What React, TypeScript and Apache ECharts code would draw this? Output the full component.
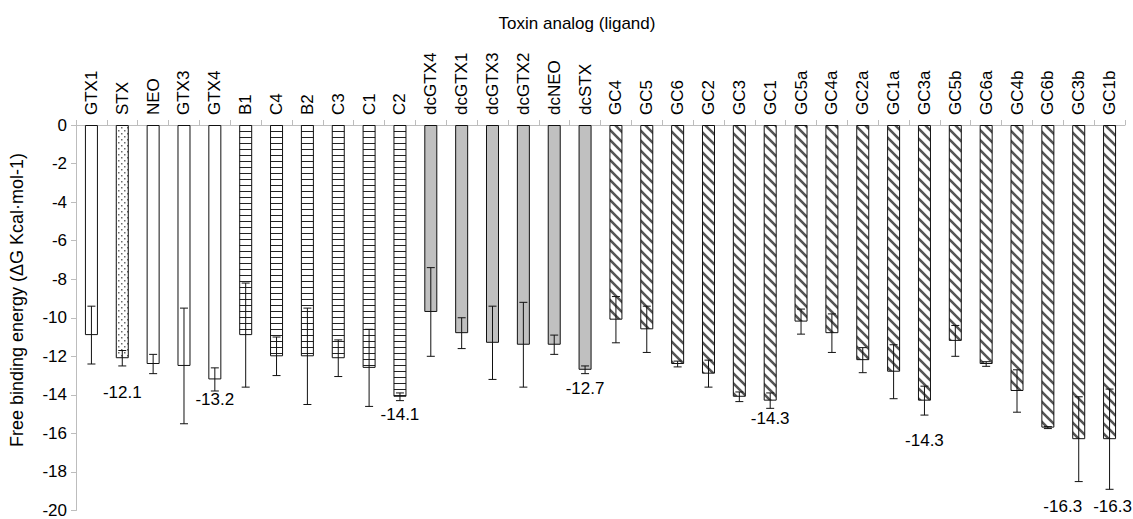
import React, { useEffect, useRef } from "react";
import * as echarts from "echarts";

// ---- data ----
const categories: string[] = [
  "GTX1", "STX", "NEO", "GTX3", "GTX4",
  "B1", "C4", "B2", "C3", "C1", "C2",
  "dcGTX4", "dcGTX1", "dcGTX3", "dcGTX2", "dcNEO", "dcSTX",
  "GC4", "GC5", "GC6", "GC2", "GC3", "GC1", "GC5a", "GC4a", "GC2a", "GC1a",
  "GC3a", "GC5b", "GC6a", "GC4b", "GC6b", "GC3b", "GC1b",
];

const energies: number[] = [
  -10.9, -12.1, -12.4, -12.5, -13.2,
  -10.9, -12.0, -12.0, -12.1, -12.6, -14.1,
  -9.7, -10.8, -11.3, -11.4, -11.4, -12.7,
  -10.1, -10.6, -12.4, -12.9, -14.1, -14.3, -10.2, -10.8, -12.2, -12.8,
  -14.3, -11.2, -12.4, -13.8, -15.7, -16.3, -16.3,
];

const errors: number[] = [
  1.5, 0.4, 0.5, 3.0, 0.6,
  2.7, 1.0, 2.5, 0.95, 2.0, 0.2,
  2.3, 0.8, 1.9, 2.2, 0.5, 0.2,
  1.2, 1.2, 0.15, 0.7, 0.25, 0.4, 0.65, 1.0, 0.65, 1.4,
  0.75, 0.8, 0.12, 1.1, 0.05, 2.2, 2.6,
];

// toxin class of each analog
const toxinClass: string[] = [
  "carbamate", "stx", "carbamate", "carbamate", "carbamate",
  "sulfo", "sulfo", "sulfo", "sulfo", "sulfo", "sulfo",
  "decarbamoyl", "decarbamoyl", "decarbamoyl", "decarbamoyl", "decarbamoyl", "decarbamoyl",
  "gc", "gc", "gc", "gc", "gc", "gc", "gc", "gc", "gc", "gc",
  "gc", "gc", "gc", "gc", "gc", "gc", "gc",
];

const labeled: string[] = ["STX", "GTX4", "C2", "dcSTX", "GC1", "GC3a", "GC3b", "GC1b"];

const yTicks = { min: -20, max: 0, interval: 2 };

const titleText = "Toxin analog (ligand)";
const yAxisTitle = "Free binding energy (\u0394G Kcal\u00b7mol-1)";

// ---- styles ----
const FONT = "'Liberation Sans', Arial, sans-serif";
const FS = 17;
const labelOffsets: Record<string, [number, number]> = {
  STX: [0, 34],
  GTX4: [0, 20],
  C2: [0, 18],
  dcSTX: [0, 19],
  GC1: [0, 18],
  GC3a: [0, 40],
  GC3b: [-16, 67],
  GC1b: [3, 67],
};

function makeCanvas(w: number, h: number, draw: (ctx: CanvasRenderingContext2D) => void) {
  const c = document.createElement("canvas");
  c.width = w;
  c.height = h;
  const ctx = c.getContext("2d")!;
  ctx.fillStyle = "#ffffff";
  ctx.fillRect(0, 0, w, h);
  draw(ctx);
  return c;
}

function buildFills() {
  const dots = makeCanvas(6, 6, (ctx) => {
    ctx.fillStyle = "#6a6a6a";
    ctx.fillRect(1, 1, 1.5, 1.5);
    ctx.fillRect(4, 4, 1.5, 1.5);
  });
  const hlines = makeCanvas(6, 6, (ctx) => {
    ctx.fillStyle = "#222222";
    ctx.fillRect(0, 5, 6, 1);
  });
  const diag = makeCanvas(10, 10, (ctx) => {
    ctx.strokeStyle = "#555555";
    ctx.lineWidth = 2.6;
    ctx.beginPath();
    ctx.moveTo(-2, -2); ctx.lineTo(12, 12);
    ctx.moveTo(-12, -2); ctx.lineTo(2, 12);
    ctx.moveTo(8, -2); ctx.lineTo(22, 12);
    ctx.stroke();
  });
  const pat = (img: HTMLCanvasElement) => ({
    image: img,
    repeat: "repeat",
    imageWidth: img.width,
    imageHeight: img.height,
  });
  return {
    carbamate: "#ffffff",
    stx: pat(dots),
    sulfo: pat(hlines),
    decarbamoyl: "#c0c0c0",
    gc: pat(diag),
  } as Record<string, any>;
}

export default function App() {
  const ref = useRef<HTMLDivElement>(null);

  useEffect(() => {
    if (!ref.current) return;
    const chart = echarts.init(ref.current, undefined, { renderer: "svg" });
    const fills = buildFills();

    const barData = energies.map((v, i) => ({
      value: v,
      itemStyle: { color: fills[toxinClass[i]] },
    }));
    const errData = energies.map((v, i) => [i, v - errors[i], v + errors[i]]);
    const labelData = labeled.map((name) => {
      const i = categories.indexOf(name);
      return [i, energies[i]];
    });

    chart.setOption({
      animation: false,
      textStyle: { fontFamily: FONT },
      grid: { left: 76, right: 8, top: 125, bottom: 5, containLabel: false },
      xAxis: {
        type: "category",
        position: "top",
        data: categories,
        axisLine: { show: true, lineStyle: { color: "#bdbdbd", width: 1 } },
        axisTick: { show: true, interval: 0, length: 5, lineStyle: { color: "#bdbdbd" } },
        axisLabel: {
          interval: 0,
          rotate: 90,
          fontSize: FS,
          color: "#000",
          margin: 10,
          fontFamily: FONT,
        },
      },
      yAxis: {
        type: "value",
        min: yTicks.min,
        max: yTicks.max,
        interval: yTicks.interval,
        axisLine: { show: true, lineStyle: { color: "#bdbdbd", width: 1 } },
        axisTick: { show: true, length: 5, lineStyle: { color: "#bdbdbd" } },
        splitLine: { show: false },
        axisLabel: { fontSize: FS, color: "#000", margin: 9, fontFamily: FONT },
      },
      graphic: [
        {
          type: "text",
          x: 577,
          y: 23,
          style: {
            text: titleText,
            fontSize: FS,
            fontFamily: FONT,
            fill: "#000",
            align: "center",
            verticalAlign: "middle",
          },
        },
        {
          type: "text",
          x: 17,
          y: 300,
          rotation: Math.PI / 2,
          style: {
            text: yAxisTitle,
            fontSize: 18,
            fontFamily: FONT,
            fill: "#000",
            align: "center",
            verticalAlign: "middle",
          },
        },
      ],
      series: [
        {
          type: "bar",
          data: barData,
          barWidth: 13,
          itemStyle: { borderColor: "#111", borderWidth: 1 },
          z: 2,
        },
        {
          type: "custom",
          data: errData,
          z: 3,
          encode: { x: 0, y: [1, 2] },
          renderItem: (params: any, api: any) => {
            const idx = api.value(0);
            const lo = api.coord([idx, api.value(1)]);
            const hi = api.coord([idx, api.value(2)]);
            const hw = 4;
            const style = { stroke: "#111", lineWidth: 1 };
            return {
              type: "group",
              children: [
                { type: "line", shape: { x1: lo[0], y1: lo[1], x2: hi[0], y2: hi[1] }, style },
                { type: "line", shape: { x1: lo[0] - hw, y1: lo[1], x2: lo[0] + hw, y2: lo[1] }, style },
                { type: "line", shape: { x1: hi[0] - hw, y1: hi[1], x2: hi[0] + hw, y2: hi[1] }, style },
              ],
            };
          },
        },
        {
          type: "custom",
          data: labelData,
          z: 4,
          encode: { x: 0, y: 1 },
          renderItem: (params: any, api: any) => {
            const idx = api.value(0);
            const v = api.value(1);
            const p = api.coord([idx, v]);
            const off = labelOffsets[categories[idx]] || [0, 18];
            return {
              type: "text",
              x: p[0] + off[0],
              y: p[1] + off[1],
              style: {
                text: Number(v).toFixed(1),
                fontSize: FS,
                fontFamily: FONT,
                fill: "#000",
                align: "center",
                verticalAlign: "middle",
              },
            };
          },
        },
      ],
    });

    return () => chart.dispose();
  }, []);

  return (
    <div
      ref={ref}
      style={{ position: "fixed", left: 0, top: 0, width: 1133, height: 519, background: "#fff" }}
    />
  );
}
